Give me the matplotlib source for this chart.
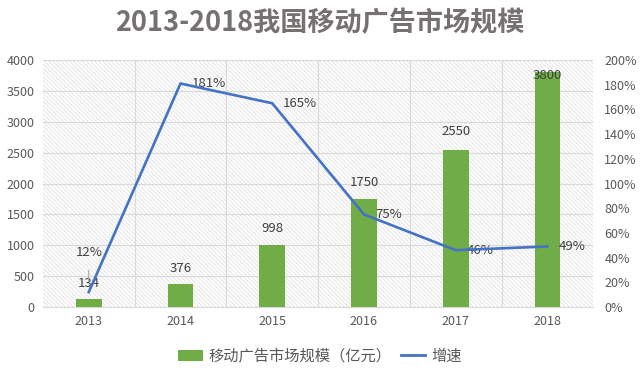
import numpy as np
import matplotlib.pyplot as plt
from matplotlib.lines import Line2D
from matplotlib.patches import Patch

plt.rcParams['font.family'] = ['Noto Sans CJK SC', 'DejaVu Sans']
plt.rcParams['hatch.color'] = '#d4d4d4'
plt.rcParams['hatch.linewidth'] = 0.6

years = ['2013', '2014', '2015', '2016', '2017', '2018']
scale = [134, 376, 998, 1750, 2550, 3800]      # 亿元
growth = [12, 181, 165, 75, 46, 49]             # %

green = '#70AD47'
blue = '#4472C4'
grey = '#595959'

fig = plt.figure(figsize=(6.4, 3.73), dpi=100)
ax = fig.add_axes([0.067, 0.177, 0.86, 0.662])
x = np.arange(len(years))

ax.patch.set_facecolor('white')
ax.patch.set_hatch('\\\\\\\\\\\\\\\\')
ax.patch.set_edgecolor('#e0e0e0')

ax.bar(x, scale, width=0.28, color=green, zorder=3)
# 标签偏移（点），最后一个压在柱顶
lbl_off = [11, 11, 12, 12, 13, -2]
for xi, v, off in zip(x, scale, lbl_off):
    ax.annotate(str(v), (xi, v), xytext=(0, off), textcoords='offset points',
                ha='center', va='center', fontsize=9.5, color='#404040', zorder=5)

ax.set_xlim(-0.5, len(years) - 0.5)
ax.set_ylim(0, 4000)
ax.set_yticks(np.arange(0, 4001, 500))
ax.set_xticks(x)
ax.set_xticklabels(years)
ax.set_xticks(np.arange(0.5, len(years) - 0.5, 1), minor=True)
ax.grid(axis='y', color='#d9d9d9', lw=0.8, zorder=1)
ax.grid(axis='x', which='minor', color='#d9d9d9', lw=0.8, zorder=1)
ax.tick_params(axis='both', which='both', length=0, labelsize=9, colors=grey, pad=6)
for s in ax.spines.values():
    s.set_visible(False)
ax.spines['bottom'].set_visible(True)
ax.spines['bottom'].set_color('#d9d9d9')

ax2 = ax.twinx()
ax2.plot(x, growth, color=blue, lw=1.9, zorder=4)
ax2.set_ylim(0, 200)
ax2.set_yticks(np.arange(0, 201, 20))
ax2.set_yticklabels([f'{t}%' for t in range(0, 201, 20)])
ax2.tick_params(axis='y', length=0, labelsize=9, colors=grey, pad=8)
for s in ax2.spines.values():
    s.set_visible(False)

for i, (xi, g) in enumerate(zip(x, growth)):
    if i == 0:
        ax2.annotate(f'{g}%', xy=(xi, g), xytext=(xi, g + 32), ha='center', va='center',
                     fontsize=9.5, color='#404040',
                     arrowprops=dict(arrowstyle='-', color='#a6a6a6', lw=0.8, shrinkB=8, shrinkA=6))
    else:
        ax2.text(xi + 0.12, g, f'{g}%', ha='left', va='center', fontsize=9.5, color='#404040')

fig.suptitle('2013-2018我国移动广告市场规模', x=0.5, y=0.975, fontsize=19.5,
             fontweight='bold', color='#767171')

handles = [Patch(facecolor=green, edgecolor='none'),
           Line2D([0], [0], color=blue, lw=2)]
fig.legend(handles, ['移动广告市场规模（亿元）', '增速'], loc='lower center',
           bbox_to_anchor=(0.5, -0.015), ncol=2, frameon=False, fontsize=11,
           labelcolor=grey, handlelength=1.6, handletextpad=0.4, columnspacing=0.6)

fig.savefig('out.png', dpi=100)
